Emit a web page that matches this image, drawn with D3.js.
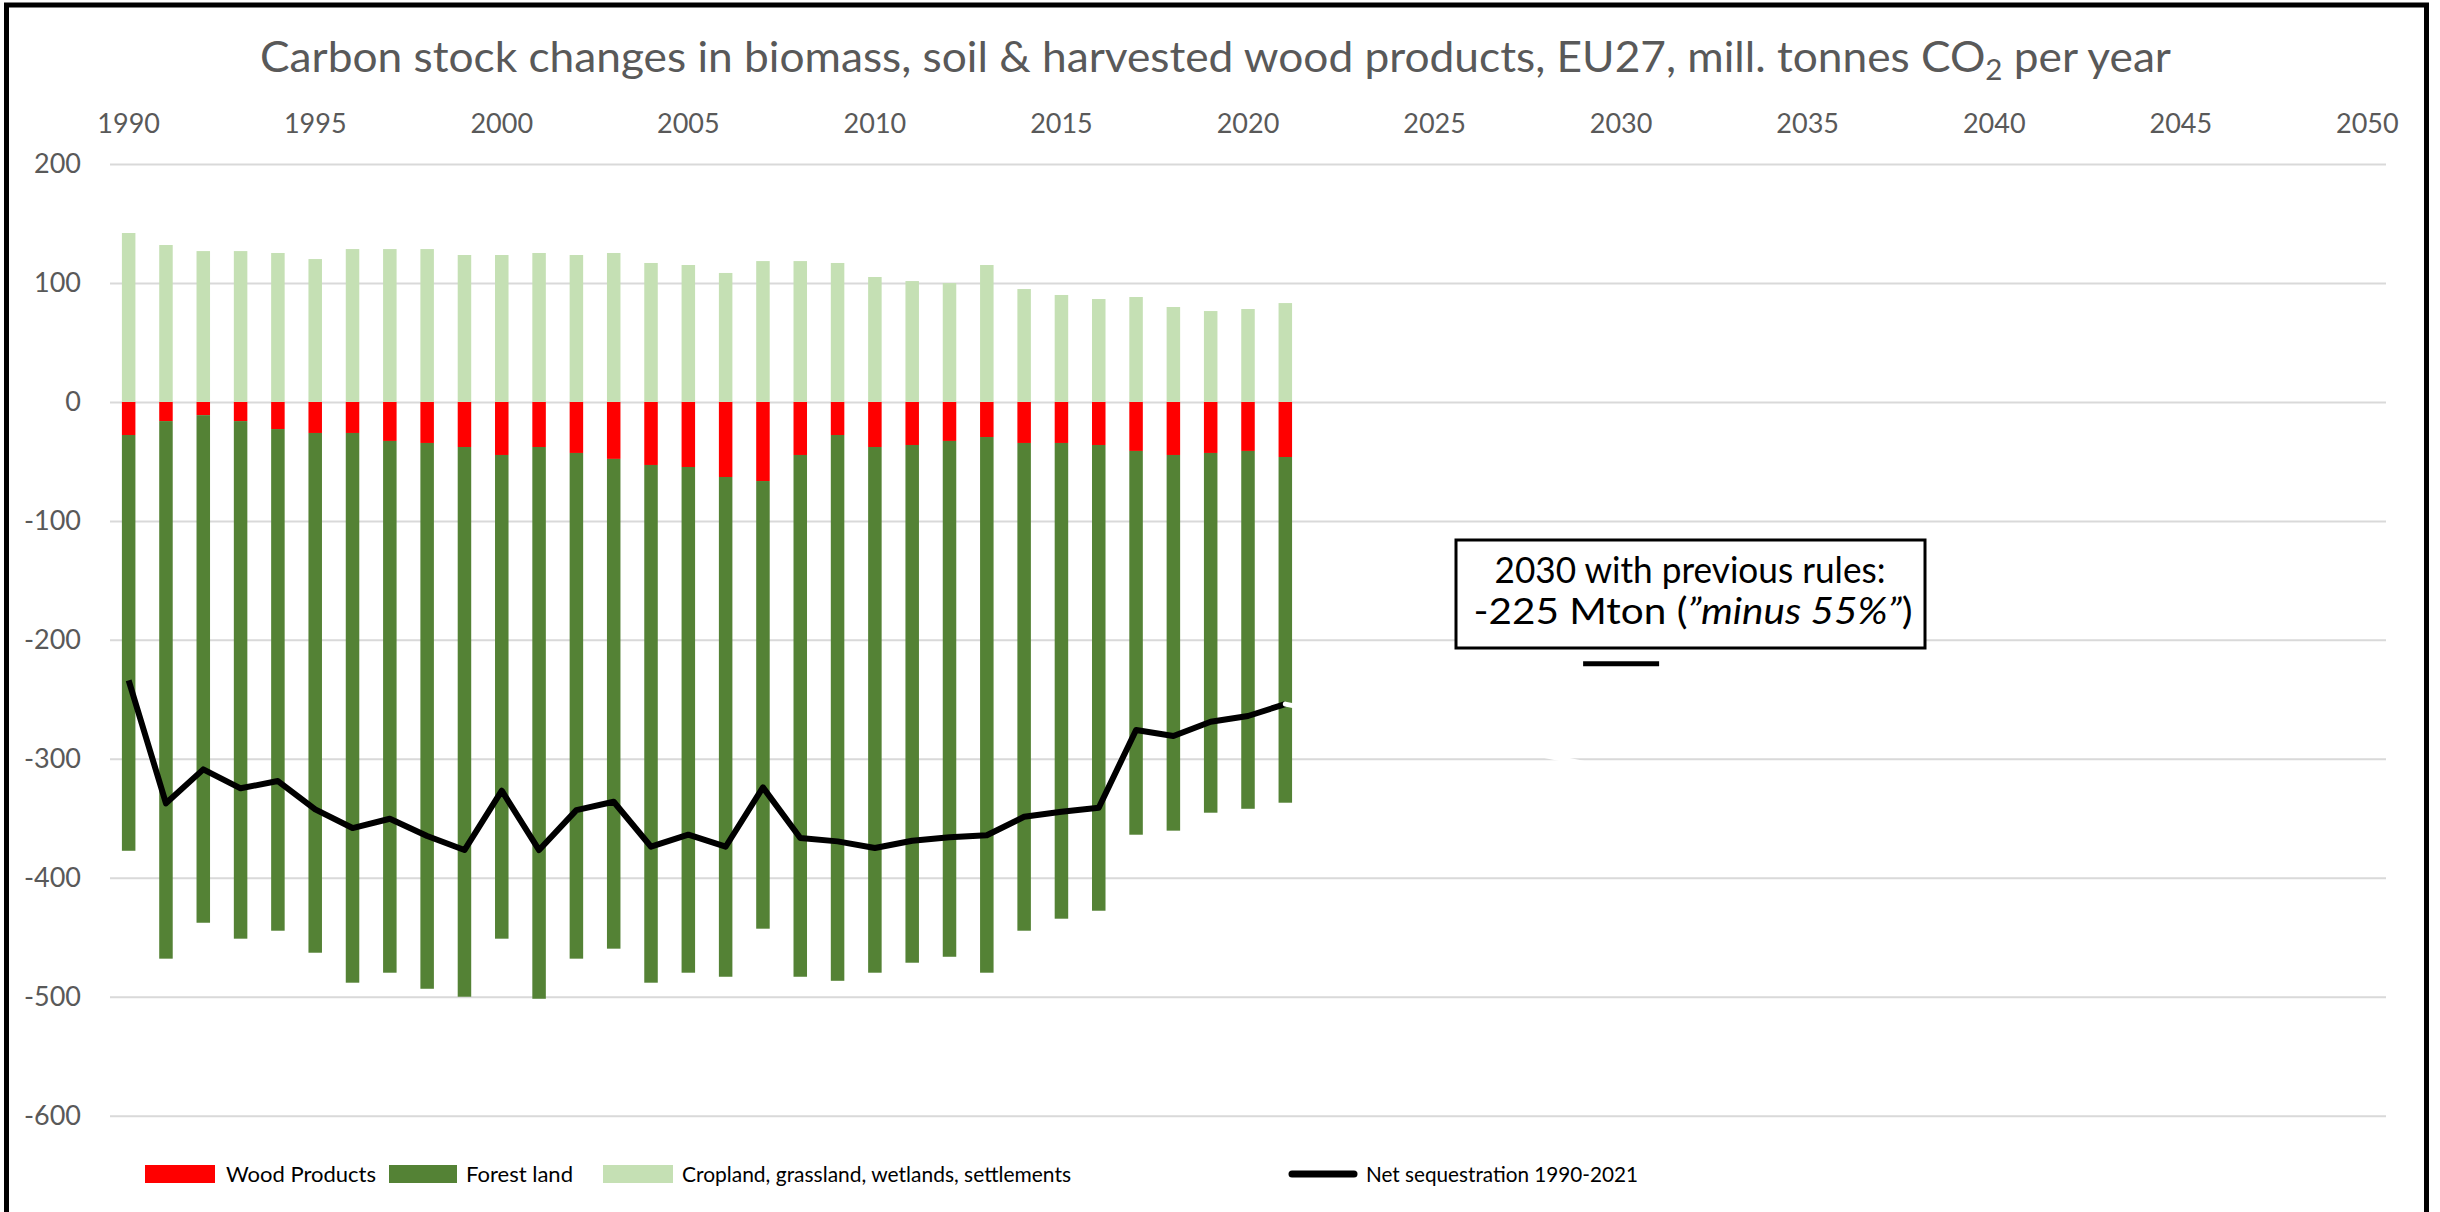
<!DOCTYPE html>
<html><head><meta charset="utf-8">
<script src="https://cdn.jsdelivr.net/npm/d3@7"></script>
<style>
body{margin:0;background:#fff}
svg{display:block}
text{font-family:Lato,"Open Sans",sans-serif}
</style>
</head><body>
<svg id="c" width="2440" height="1212"></svg>
<script>
// ---- data (mill. tonnes CO2 per year) ----
const years = [1990,1991,1992,1993,1994,1995,1996,1997,1998,1999,2000,2001,2002,2003,2004,2005,2006,2007,2008,2009,2010,2011,2012,2013,2014,2015,2016,2017,2018,2019,2020,2021];
const woodProducts = [-27.8,-16.1,-11.1,-16.1,-22.8,-26.1,-26.1,-32.8,-34.5,-37.9,-44.6,-37.9,-42.9,-47.9,-53.0,-54.7,-63.1,-66.5,-44.6,-27.8,-37.9,-36.2,-32.8,-29.5,-34.5,-34.5,-36.2,-41.2,-44.6,-42.9,-41.2,-46.3];
const forestLand = [-349.5,-451.9,-426.7,-435.1,-421.7,-436.9,-462.1,-447.0,-458.8,-462.1,-406.6,-463.8,-425.1,-411.7,-435.2,-425.1,-420.1,-376.3,-438.6,-458.8,-441.9,-435.2,-433.6,-450.3,-410.0,-399.9,-391.5,-322.6,-315.8,-302.4,-300.8,-290.6];
const cropland = [142.0,131.9,126.8,126.8,125.2,120.1,128.5,128.5,128.5,123.5,123.5,125.2,123.5,125.2,116.8,115.1,108.4,118.4,118.4,116.8,105.0,101.6,99.9,115.1,94.9,89.9,86.5,88.2,79.8,76.4,78.1,83.1];
const netSequestration = [-234,-337.4,-308.9,-324.8,-318.7,-342.5,-358.2,-350.4,-364.9,-376.7,-326.8,-376.7,-343.1,-336.1,-373.9,-363.8,-373.9,-324.0,-366.6,-369.4,-375.0,-368.9,-366.0,-364.3,-348.7,-344.5,-341.1,-275.8,-280.8,-268.8,-264.0,-254.0];
const projYears = [2021, 2030];
const projValues = [-254, -310];
const targetYear = [2030];
const targetValue = [-220];
const axisYears = d3.range(1990, 2051);
const xTickYears = [1990,1995,2000,2005,2010,2015,2020,2025,2030,2035,2040,2045,2050];
const yTicks = [200,100,0,-100,-200,-300,-400,-500,-600];
const seriesNames = ["Wood Products","Forest land","Cropland, grassland, wetlands, settlements"];
const lineName = "Net sequestration 1990-2021";
const colors = {wood:"#FF0000", forest:"#548235", crop:"#C5E0B4"};

const svg = d3.select("#c");
const L = 110, R = 2386;

const x = d3.scaleBand().domain(axisYears).range([L, R]).paddingInner(0.638).paddingOuter(0.319);
const y = d3.scaleLinear().domain([-600, 200]).range([1115.7, 164]);
const bw = x.bandwidth();

// gridlines + y labels
const gy = svg.append("g").attr("transform", `translate(${L},0)`)
  .call(d3.axisLeft(y).tickValues(yTicks).tickSize(-(R - L)).tickPadding(29).tickFormat(d => String(d)));
gy.select(".domain").remove();
gy.selectAll(".tick line").attr("stroke", "#d9d9d9").attr("stroke-width", 2);
gy.selectAll(".tick text").attr("fill", "#595959").attr("font-size", 27).attr("font-family", "Lato");

// top year axis
const gx = svg.append("g").attr("transform", "translate(0,133)")
  .call(d3.axisTop(x).tickValues(xTickYears).tickSize(0).tickPadding(0));
gx.select(".domain").remove();
gx.selectAll(".tick text").attr("fill", "#595959").attr("font-size", 27).attr("font-family", "Lato");

// stacked bars
const rows = years.map((yr, i) => ({year: yr, wood: woodProducts[i], forest: forestLand[i], crop: cropland[i]}));
const stacked = d3.stack().keys(["wood", "forest", "crop"]).offset(d3.stackOffsetDiverging)(rows);
svg.append("g").selectAll("g").data(stacked).join("g")
  .attr("fill", s => colors[s.key])
  .selectAll("rect").data(s => s).join("rect")
  .attr("x", d => x(d.data.year))
  .attr("width", bw)
  .attr("y", d => y(Math.max(d[0], d[1])))
  .attr("height", d => Math.abs(y(d[0]) - y(d[1])));

// net line
const cx = yr => x(yr) + bw / 2;
const line = d3.line().x(d => cx(d[0])).y(d => y(d[1]));
svg.append("path")
  .datum(years.map((yr, i) => [yr, netSequestration[i]]))
  .attr("d", line).attr("fill", "none").attr("stroke", "#000").attr("stroke-width", 6)
  .attr("stroke-linejoin", "round");

// hidden (white) projection line
svg.append("path")
  .datum(projYears.map((yr, i) => [yr, projValues[i]]))
  .attr("d", line).attr("fill", "none").attr("stroke", "#fff").attr("stroke-width", 5)
  .attr("stroke-linecap", "round");

// 2030 target dash marker
svg.append("g").selectAll("line").data(targetYear.map((yr, i) => [yr, targetValue[i]])).join("line")
  .attr("x1", d => cx(d[0]) - 38).attr("x2", d => cx(d[0]) + 38)
  .attr("y1", d => y(d[1])).attr("y2", d => y(d[1]))
  .attr("stroke", "#000").attr("stroke-width", 5);

// annotation box
svg.append("rect").attr("x", 1456).attr("y", 540).attr("width", 469).attr("height", 108)
  .attr("fill", "#fff").attr("stroke", "#000").attr("stroke-width", 3);
svg.append("text").attr("x", 1690).attr("y", 583).attr("text-anchor", "middle")
  .attr("font-size", 37).attr("fill", "#000")
  .attr("textLength", 391).attr("lengthAdjust", "spacingAndGlyphs")
  .text("2030 with previous rules:");
const t2 = svg.append("text").attr("x", 1693).attr("y", 624).attr("text-anchor", "middle")
  .attr("font-size", 37).attr("fill", "#000")
  .attr("textLength", 439).attr("lengthAdjust", "spacingAndGlyphs");
t2.append("tspan").text("-225 Mton (");
t2.append("tspan").attr("font-style", "italic").text("\u201Dminus 55%\u201D");
t2.append("tspan").text(")");

// title
const tt = svg.append("text").attr("x", 260).attr("y", 72).attr("font-size", 42).attr("fill", "#595959")
  .attr("textLength", 1911).attr("lengthAdjust", "spacingAndGlyphs");
tt.append("tspan").text("Carbon stock changes in biomass, soil & harvested wood products, EU27, mill. tonnes CO");
tt.append("tspan").attr("font-size", 28).attr("dy", 8).text("2");
tt.append("tspan").attr("dy", -8).text(" per year");

// legend
const lg = svg.append("g");
const sw = [
  {x: 145, w: 70, c: colors.wood, tx: 226, tl: 150, name: seriesNames[0]},
  {x: 389, w: 68, c: colors.forest, tx: 466, tl: 107, name: seriesNames[1]},
  {x: 603, w: 70, c: colors.crop, tx: 682, tl: 389, name: seriesNames[2]}
];
sw.forEach(s => {
  lg.append("rect").attr("x", s.x).attr("y", 1165).attr("width", s.w).attr("height", 18).attr("fill", s.c);
  lg.append("text").attr("x", s.tx).attr("y", 1182).attr("font-size", 22).attr("fill", "#000")
    .attr("textLength", s.tl).attr("lengthAdjust", "spacingAndGlyphs").text(s.name);
});
lg.append("line").attr("x1", 1292).attr("x2", 1354).attr("y1", 1174).attr("y2", 1174)
  .attr("stroke", "#000").attr("stroke-width", 7).attr("stroke-linecap", "round");
lg.append("text").attr("x", 1366).attr("y", 1182).attr("font-size", 22).attr("fill", "#000")
  .attr("textLength", 272).attr("lengthAdjust", "spacingAndGlyphs").text(lineName);

// outer frame
svg.append("rect").attr("x", 6.5).attr("y", 5).attr("width", 2420).attr("height", 1400)
  .attr("fill", "none").attr("stroke", "#000").attr("stroke-width", 5);
</script>
</body></html>
